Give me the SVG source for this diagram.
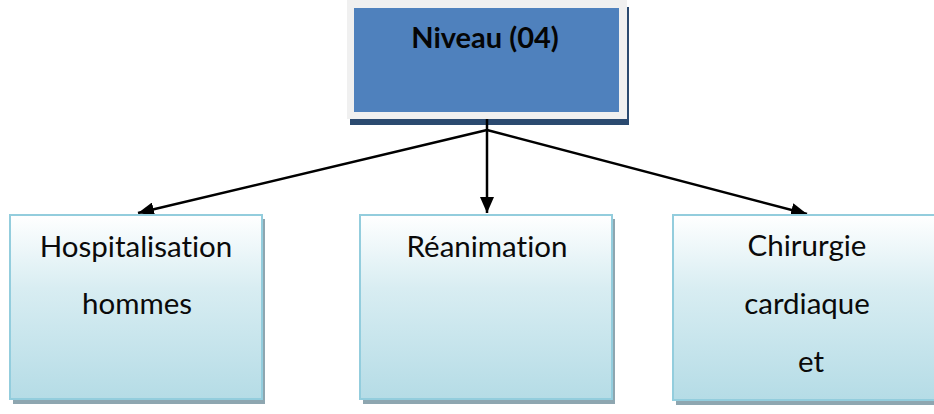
<svg xmlns="http://www.w3.org/2000/svg" width="934" height="414" viewBox="0 0 934 414">
  <defs>
    <linearGradient id="paleFill" x1="0" y1="0" x2="0" y2="1">
      <stop offset="0" stop-color="#ffffff"/>
      <stop offset="0.4" stop-color="#d8edf2"/>
      <stop offset="1" stop-color="#b5dce6"/>
    </linearGradient>
    <marker id="arrow" viewBox="0 0 16 14" refX="16" refY="7" markerWidth="16" markerHeight="14" markerUnits="userSpaceOnUse" orient="auto">
      <path d="M0,0 L16,7 L0,14 Z" fill="#000"/>
    </marker>
  </defs>
  <style>
    .label { font-family: "Lato", "Liberation Sans", sans-serif; font-size: 29.5px; fill: #0a0a0a; text-anchor: middle; font-variant-ligatures: none; }
    .title { font-family: "Lato", "Liberation Sans", sans-serif; font-size: 29px; font-weight: bold; fill: #050505; text-anchor: middle; font-variant-ligatures: none; }
    .shadow { fill: #8ea6b0; }
    .box { fill: url(#paleFill); stroke: #93cddd; stroke-width: 2; }
    .link { stroke: #000; stroke-width: 2.5; fill: none; }
  </style>

  <rect width="934" height="414" fill="#ffffff"/>

  <!-- top node -->
  <g id="niveau04">
    <rect x="350" y="7" width="279" height="118" fill="#2b4a70"/>
    <rect x="347" y="0" width="280" height="119" fill="#f0f0f0"/>
    <rect x="354" y="8" width="265" height="104" fill="#4f81bd"/>
    <text class="title" x="485" y="48">Niveau (04)</text>
  </g>

  <!-- connectors -->
  <g id="connectors">
    <line class="link" x1="487" y1="119" x2="487" y2="130"/>
    <line class="link" x1="487" y1="130" x2="487" y2="213" marker-end="url(#arrow)"/>
    <line class="link" x1="487" y1="130" x2="138" y2="213" marker-end="url(#arrow)"/>
    <line class="link" x1="487" y1="130" x2="807" y2="214" marker-end="url(#arrow)"/>
  </g>

  <!-- left node -->
  <g id="hospitalisation">
    <rect class="shadow" x="13" y="219" width="252" height="185"/>
    <rect class="box" x="10" y="215" width="252" height="184"/>
    <text class="label" x="136" y="257">Hospitalisation</text>
    <text class="label" x="137" y="314">hommes</text>
  </g>

  <!-- middle node -->
  <g id="reanimation">
    <rect class="shadow" x="363" y="219" width="252" height="185"/>
    <rect class="box" x="360" y="215" width="252" height="184"/>
    <text class="label" x="487" y="257">Réanimation</text>
  </g>

  <!-- right node -->
  <g id="chirurgie">
    <rect class="shadow" x="676" y="219" width="270" height="186"/>
    <rect class="box" x="673" y="215" width="270" height="185"/>
    <text class="label" x="807" y="256">Chirurgie</text>
    <text class="label" x="807" y="314">cardiaque</text>
    <text class="label" x="811" y="372">et</text>
  </g>
</svg>
